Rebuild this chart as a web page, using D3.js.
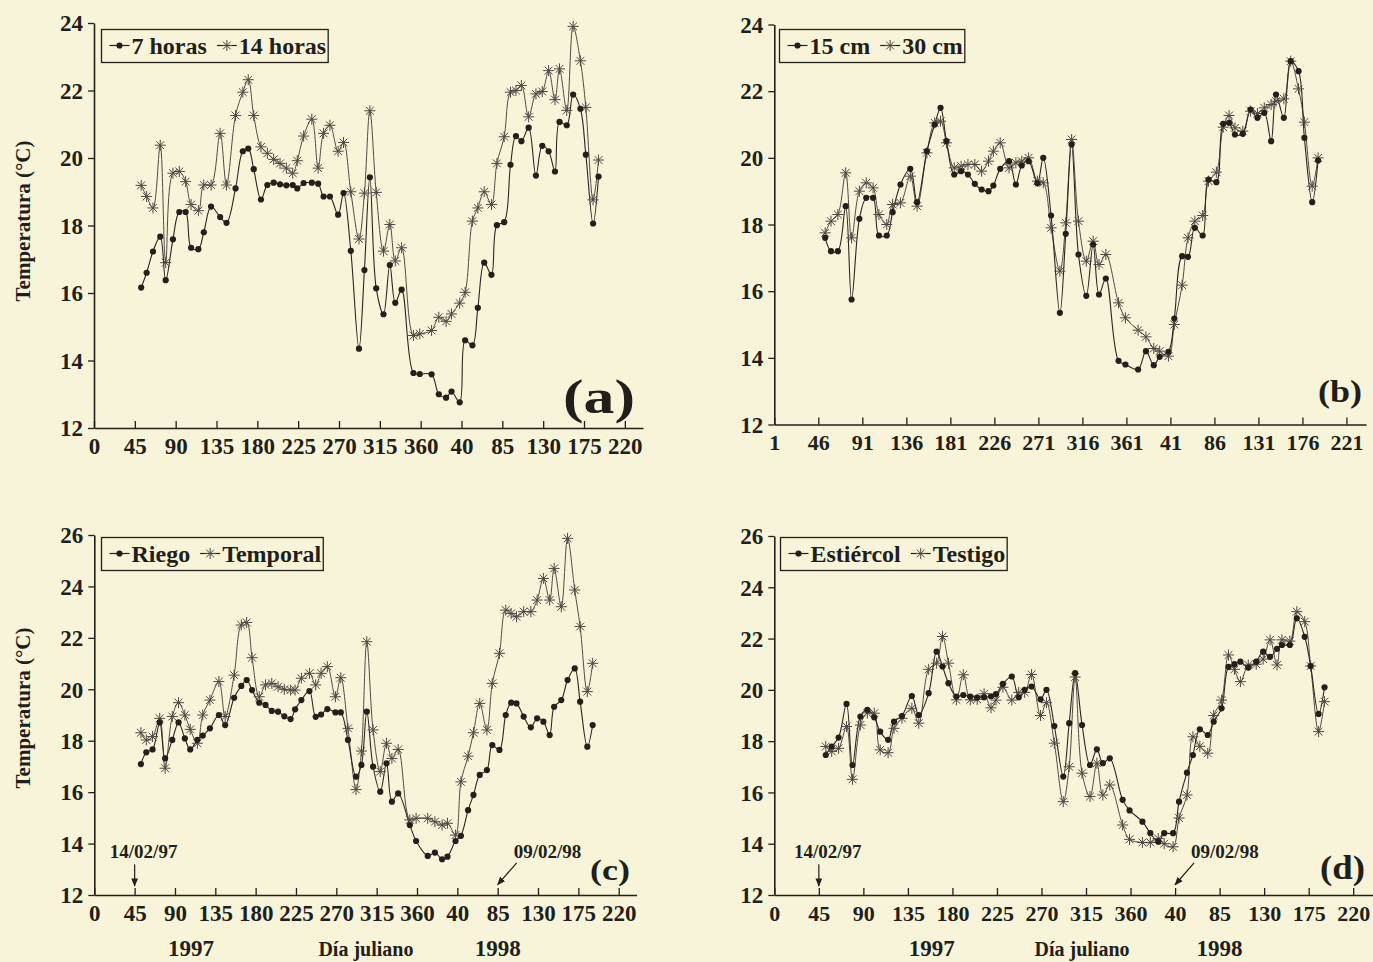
<!DOCTYPE html>
<html>
<head>
<meta charset="utf-8">
<script src="https://cdn.jsdelivr.net/npm/d3@7"></script>
<style>
  body { margin: 0; background: #f7f4d9; }
  svg { display: block; }
  text { font-family: "Liberation Serif", "Times New Roman", serif; font-weight: bold; fill: #221e19; }
</style>
</head>
<body>
<svg id="chart" width="1373" height="962"></svg>
<script>
// sampling days (julian, 1998 continues after 365)
const days = [52,58,65,73,79,87,94,101,107,115,121,129,139,146,156,164,170,176,184,191,
  198,205,212,219,224,231,240,247,253,260,269,275,283,292,298,304,311,319,326,332,
  339,352,359,372,380,388,394,403,409,417,423,430,438,444,452,459,465,471,479,487,
  494,501,508,513,521,528,536,542,550,556];

// (a) hour of measurement
const t7h = [16.16,16.6,17.23,17.67,16.38,17.59,18.4,18.4,17.34,17.3,17.8,18.56,18.25,18.08,19.1,20.2,20.28,19.67,18.77,19.2,
  19.27,19.22,19.19,19.2,19.1,19.26,19.27,19.24,18.86,18.86,18.32,18.96,17.25,14.35,16.68,19.43,16.14,15.37,16.83,15.71,
  16.1,13.63,13.6,13.59,13.0,12.9,13.08,12.76,14.6,14.45,15.56,16.9,16.54,18.01,18.1,19.8,20.65,20.5,20.9,19.48,
  20.36,20.2,19.6,21.07,20.97,21.88,21.46,20.1,18.06,19.45];
const t14h = [19.19,18.86,18.52,20.38,16.9,19.55,19.6,19.3,18.62,18.44,19.2,19.2,20.73,19.2,21.26,21.95,22.32,21.26,20.33,20.14,
  19.96,19.84,19.7,19.55,19.92,20.65,21.15,19.7,20.73,20.97,20.2,20.46,19.0,17.6,18.96,21.4,18.98,17.24,18.03,16.95,
  17.34,14.74,14.79,14.89,15.28,15.16,15.38,15.7,16.02,18.13,18.52,19.0,18.62,19.84,20.63,21.95,22.0,22.15,21.22,21.9,
  21.97,22.59,21.73,22.64,21.41,23.9,22.88,21.5,18.76,19.94];

// (b) depth
const t15cm = [17.6,17.2,17.2,18.55,15.75,18.17,18.8,18.8,17.67,17.67,18.37,19.2,19.67,18.67,20.2,21.0,21.5,20.5,19.5,19.6,
  19.5,19.22,19.05,19.0,19.17,19.67,19.9,19.2,19.77,19.9,19.24,20.0,18.27,15.35,17.72,20.4,17.1,15.86,17.4,15.9,
  16.38,13.91,13.8,13.65,14.2,13.78,14.03,14.18,15.18,17.05,17.03,17.9,17.67,19.35,19.27,21.02,21.05,20.7,20.72,21.45,
  21.2,21.35,20.5,21.9,21.2,22.9,22.6,20.6,18.67,19.92];
const t30cm = [17.75,18.1,18.3,19.55,17.6,19.0,19.25,19.1,18.3,18.0,18.6,18.65,19.45,18.55,20.15,21.05,21.1,20.45,19.7,19.75,
  19.8,19.8,19.6,19.9,20.2,20.45,19.7,19.85,19.9,20.0,19.3,19.25,17.9,16.6,18.05,20.55,18.1,16.9,17.5,16.8,
  17.1,15.65,15.2,14.83,14.63,14.28,14.2,14.05,15.0,16.18,17.6,18.1,18.27,19.3,19.57,20.92,21.27,20.9,20.8,21.4,
  21.33,21.5,21.6,21.7,21.77,22.9,22.07,21.07,19.15,20.0];

// (c) water regime
const riego = [17.09,17.55,17.66,18.71,17.31,18.03,18.71,18.09,17.66,18.03,18.2,18.48,19.0,18.61,19.67,20.13,20.36,19.97,19.48,19.39,
  19.16,19.13,18.95,18.84,19.22,19.58,19.93,18.93,19.02,19.23,19.1,19.1,18.03,16.6,17.06,19.13,16.99,16.02,17.12,15.63,
  15.95,14.72,14.1,13.52,13.65,13.39,13.49,14.1,14.3,15.3,15.89,16.67,16.86,17.83,17.64,19.0,19.48,19.45,18.94,18.52,
  18.87,18.74,18.22,19.32,19.58,20.36,20.81,19.52,17.77,18.61];
const temporal = [18.31,18.03,18.16,18.87,16.93,18.94,19.48,19.0,18.44,17.9,19.0,19.58,20.3,18.94,20.55,22.5,22.6,21.23,19.71,20.17,
  20.23,20.1,20.0,19.97,19.97,20.43,20.62,20.17,20.62,20.88,19.71,20.45,18.48,16.1,17.6,21.85,18.42,16.8,17.9,17.31,
  17.66,14.92,14.98,14.98,14.85,14.72,14.79,14.33,16.4,17.4,18.31,19.45,18.42,20.23,21.4,23.08,22.95,22.82,23.02,23.02,
  23.47,24.31,23.47,24.7,23.21,25.87,23.86,22.44,19.91,21.01];

// (d) manure
const estiercol = [17.46,17.79,18.14,19.45,17.07,18.96,19.22,18.93,18.37,18.05,18.76,18.98,19.76,19.02,19.87,21.49,20.91,20.26,19.74,19.8,
  19.74,19.7,19.71,19.75,19.83,20.23,20.52,19.71,20.0,20.13,19.63,20.0,18.59,16.62,18.7,20.65,18.63,17.07,17.68,17.14,
  17.33,15.71,15.3,14.86,14.41,14.08,14.41,14.41,15.64,16.77,17.46,18.46,18.24,18.76,19.28,20.9,21.0,21.1,20.87,21.1,
  21.49,21.29,21.6,21.75,21.75,22.79,22.07,20.93,19.06,20.1];
const testigo = [17.79,17.6,17.72,18.57,16.51,18.63,19.1,19.09,17.66,17.55,18.5,18.89,19.28,18.7,20.8,21.04,22.08,21.04,19.61,20.59,
  19.61,19.63,19.85,19.3,19.6,20.1,19.6,19.9,19.9,20.6,19.0,19.5,17.92,15.64,17.0,20.5,16.75,15.84,17.14,15.9,
  16.29,14.73,14.17,14.05,14.05,14.2,14.0,13.88,15.0,15.9,18.17,17.8,17.53,19.0,19.6,21.36,20.8,20.32,20.97,21.0,
  21.2,21.95,20.97,21.95,21.9,23.05,22.66,20.93,18.37,19.54];

const ink = '#231f1a';
const svg = d3.select('#chart');

const panels = [
  { x0: 94, x1: 643, yTop: 23, yBot: 428, yMax: 24, xMin: 0, s1: t7h, s2: t14h,
    names: ['7 horas', '14 horas'], legend: [101.5, 29.5], tag: '(a)', tagPos: [635, 413, 48, 72],
    ytitle: 221, xfont: 23, yfont: 23 },
  { x0: 774.3, x1: 1366, yTop: 24.5, yBot: 424.5, yMax: 24, xMin: 1, s1: t15cm, s2: t30cm,
    names: ['15 cm', '30 cm'], legend: [779.5, 29.5], tag: '(b)', tagPos: [1362, 402, 32, 44],
    xfont: 22, yfont: 23 },
  { x0: 94.3, x1: 636.6, yTop: 535, yBot: 895, yMax: 26, xMin: 0, s1: riego, s2: temporal,
    names: ['Riego', 'Temporal'], legend: [101.5, 537.5], tag: '(c)', tagPos: [630, 880, 30, 40],
    ytitle: 708, xfont: 23, yfont: 23, notes: [[45, '14/02/97', 'down'], [450, '09/02/98', 'diag']],
    years: [108, 303, 450] },
  { x0: 774.3, x1: 1373, yTop: 536, yBot: 895, yMax: 26, xMin: 0, s1: estiercol, s2: testigo,
    names: ['Estiércol', 'Testigo'], legend: [780.5, 537.5], tag: '(d)', tagPos: [1365, 879, 34, 45],
    xfont: 22, yfont: 23, notes: [[45, '14/02/97', 'down'], [405, '09/02/98', 'diag']],
    years: [159, 311, 450] }
];

// arrow head
svg.append('defs').append('marker')
  .attr('id', 'arrow').attr('viewBox', '0 0 10 10')
  .attr('refX', 9).attr('refY', 5)
  .attr('markerWidth', 7).attr('markerHeight', 7)
  .attr('orient', 'auto')
  .append('path').attr('d', 'M0,1L10,5L0,9z').attr('fill', ink);

function starPath(r) {
  let d = '';
  for (let k = 0; k < 4; k++) {
    const a = k * Math.PI / 4;
    const dx = r * Math.cos(a), dy = r * Math.sin(a);
    d += `M${-dx},${-dy}L${dx},${dy}`;
  }
  return d;
}

function drawDot(g, cx, cy) {
  g.append('circle').attr('cx', cx).attr('cy', cy).attr('r', 3.1).attr('fill', ink);
}
function drawStar(g, cx, cy) {
  g.append('path').attr('transform', `translate(${cx},${cy})`)
    .attr('d', starPath(5.5)).attr('stroke', '#4e4842').attr('stroke-width', 1).attr('fill', 'none');
}

function drawPanel(p) {
  const g = svg.append('g');
  const x = d3.scaleLinear().domain([p.xMin, p.xMin + 605]).range([p.x0, p.x1]);
  const y = d3.scaleLinear().domain([12, p.yMax]).range([p.yBot, p.yTop]);
  const off = p.xMin;

  // axes
  const xa = g.append('g').attr('transform', `translate(0,${p.yBot})`)
    .call(d3.axisBottom(x)
      .tickValues(d3.range(14).map(k => p.xMin + 45 * k))
      .tickFormat(v => v > 365 ? v - 365 : v)
      .tickSizeInner(-7).tickSizeOuter(0).tickPadding(10));
  const ya = g.append('g').attr('transform', `translate(${p.x0},0)`)
    .call(d3.axisLeft(y).tickValues(d3.range(12, p.yMax + 1, 2))
      .tickSizeInner(6).tickSizeOuter(0).tickPadding(5));
  [[xa, p.xfont], [ya, p.yfont]].forEach(([a, fs]) => {
    a.attr('font-family', null).attr('font-size', fs).attr('color', ink);
    a.select('.domain').attr('stroke-width', 1.6);
    a.selectAll('.tick line').attr('stroke-width', 1.3);
  });
  ya.selectAll('.tick text').attr('dy', '0.34em');

  // lines
  const line = d3.line()
    .x((d, i) => x(days[i] + off))
    .y(d => y(d))
    .curve(d3.curveCatmullRom.alpha(0.5));
  g.append('path').datum(p.s2).attr('d', line)
    .attr('fill', 'none').attr('stroke', '#514b44').attr('stroke-width', 1);
  g.append('path').datum(p.s1).attr('d', line)
    .attr('fill', 'none').attr('stroke', '#2b2621').attr('stroke-width', 1.1);

  p.s2.forEach((v, i) => drawStar(g, x(days[i] + off), y(v)));
  p.s1.forEach((v, i) => drawDot(g, x(days[i] + off), y(v)));

  // legend
  const lg = g.append('g').attr('transform', `translate(${p.legend[0]},${p.legend[1]})`);
  const box = lg.append('rect').attr('height', 33).attr('fill', 'none')
    .attr('stroke', ink).attr('stroke-width', 1.3);
  let cx = 8;
  p.names.forEach((nm, k) => {
    lg.append('line').attr('x1', cx).attr('x2', cx + 20).attr('y1', 16).attr('y2', 16)
      .attr('stroke', ink).attr('stroke-width', 1.2);
    if (k === 0) drawDot(lg, cx + 10, 16); else drawStar(lg, cx + 10, 16);
    const t = lg.append('text').attr('x', cx + 22).attr('y', 24.5).attr('font-size', 24).text(nm);
    cx += 22 + t.node().getComputedTextLength() + 10;
  });
  box.attr('width', cx - 8);

  // panel tag
  const tp = p.tagPos;
  g.append('text').attr('x', tp[0]).attr('y', tp[1]).attr('text-anchor', 'end')
    .attr('font-size', tp[2]).attr('textLength', tp[3]).attr('lengthAdjust', 'spacingAndGlyphs')
    .text(p.tag);

  if (p.ytitle) {
    g.append('text').attr('transform', `translate(30,${p.ytitle}) rotate(-90)`)
      .attr('text-anchor', 'middle').attr('font-size', 21).text('Temperatura (°C)');
  }

  (p.notes || []).forEach(([dd, label, kind]) => {
    const ax = x(dd + off);
    if (kind === 'down') {
      g.append('text').attr('x', ax + 9).attr('y', y(13.45)).attr('text-anchor', 'middle')
        .attr('font-size', 19).text(label);
      g.append('line').attr('x1', ax).attr('x2', ax).attr('y1', y(13.2)).attr('y2', y(12.35))
        .attr('stroke', ink).attr('stroke-width', 1.2).attr('marker-end', 'url(#arrow)');
    } else {
      g.append('text').attr('x', ax + 16).attr('y', y(13.45)).attr('font-size', 19).text(label);
      g.append('line').attr('x1', ax + 19).attr('x2', ax).attr('y1', y(13.25)).attr('y2', y(12.4))
        .attr('stroke', ink).attr('stroke-width', 1.2).attr('marker-end', 'url(#arrow)');
    }
  });

  if (p.years) {
    const yb = p.yBot + 61;
    g.append('text').attr('x', x(p.years[0])).attr('y', yb).attr('text-anchor', 'middle')
      .attr('font-size', 23).text('1997');
    g.append('text').attr('x', x(p.years[1])).attr('y', yb).attr('text-anchor', 'middle')
      .attr('font-size', 20).text('Día juliano');
    g.append('text').attr('x', x(p.years[2])).attr('y', yb).attr('text-anchor', 'middle')
      .attr('font-size', 23).text('1998');
  }
}

panels.forEach(drawPanel);
</script>
</body>
</html>
